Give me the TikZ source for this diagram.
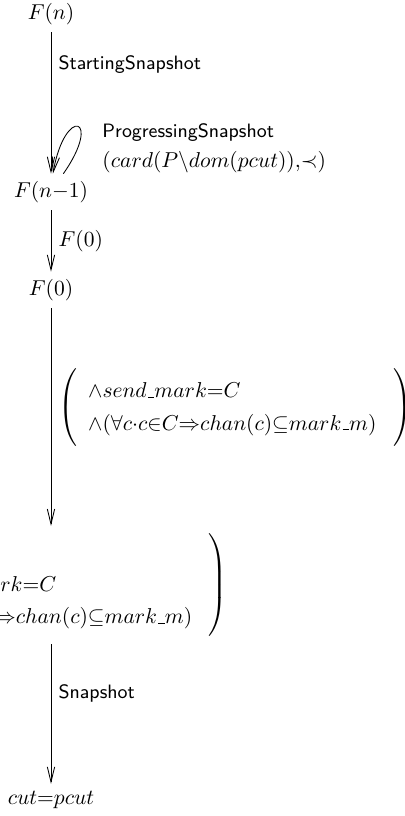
\documentclass[tikz,border=0pt]{standalone}
\usepackage{tikz}
\usetikzlibrary{arrows.meta}
\renewcommand{\arraystretch}{1.25}
\newcommand{\us}{\mbox{\kern.06em\vbox{\hrule width.3em}}}
\newcommand{\markrows}{\land send\us mark{=}C\\
  \land(\forall c{\cdot}c{\in}C{\Rightarrow}chan(c){\subseteq}mark\us m)}

\begin{document}
\begin{tikzpicture}[
  lab/.style={anchor=west},
  sf/.style={font=\sffamily\small},
  e/.style={-{Straight Barb[length=7pt,width=3.4pt]}}]
\useasboundingbox (0,0) rectangle (6.60,-13.33);
\delimitershortfall=-1pt

\node(fn) at (0.833,-0.229){$F(n)$};
\node(fn1) at (0.833,-3.137){$F(n{-}1)$};
\node(f0) at (0.833,-4.739){$F(0)$};
\node(mk) at (0.833,-9.559){$\left(\begin{array}{l}\\ \markrows\end{array}\;\right)$};
\node(cut) at (0.833,-13.07){$cut{=}pcut$};

\draw[e](fn)--node[lab,sf,pos=0.225]{StartingSnapshot}(fn1);
\draw[e](fn1.56) to[out=55,in=80,min distance=1.14cm] (fn1.84);
\node[sf,align=left,anchor=west](prog) at (1.55,-2.42)
  {ProgressingSnapshot\\[3pt]{\normalsize$(card(P\backslash dom(pcut)){,}{\prec})$}};
\draw[e](fn1)--node[lab,midway]{$F(0)$}(f0);
\draw[e](f0)--node[lab,pos=0.455]{$\left(\begin{array}{l}\markrows\end{array}\;\right)$}(mk);
\draw[e](mk)--node[lab,sf,pos=0.35]{Snapshot}(cut);
\end{tikzpicture}
\end{document}
